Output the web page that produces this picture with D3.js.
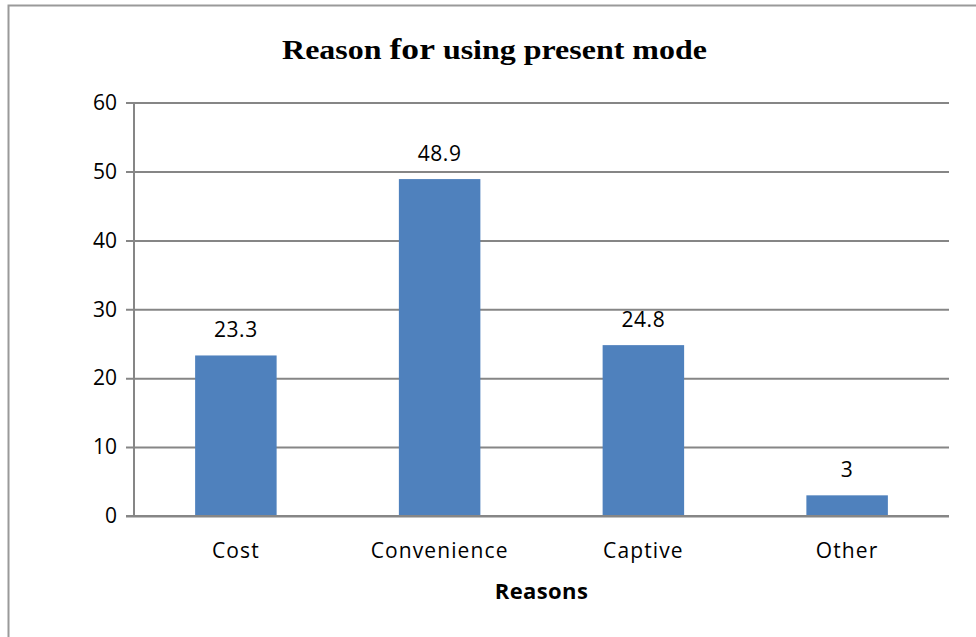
<!DOCTYPE html>
<html>
<head>
    <meta charset="utf-8">
    <title>Reason for using present mode</title>
    <script src="https://d3js.org/d3.v7.min.js"></script>
    <style>
        body { margin: 0; background: #fff; }
    </style>
</head>
<body>
    <div id="chart"></div>
    <script>

        // data
        var reasons = ["Cost", "Convenience", "Captive", "Other"];
        var percents = [23.3, 48.9, 24.8, 3];
        var yTicks = [0, 10, 20, 30, 40, 50, 60];

        var margin = { top: 102.6, right: 27, bottom: 121, left: 134 };
        var W = 976, H = 637;
        var width = W - margin.left - margin.right;
        var height = H - margin.top - margin.bottom;
        var labelFont = "'Open Sans', sans-serif";

        var root = d3.select("#chart")
            .append("svg")
            .attr("width", W)
            .attr("height", H);

        // outer chart border (only left and top are in view)
        root.append("rect")
            .attr("x", 8.5)
            .attr("y", 5.5)
            .attr("width", 1100)
            .attr("height", 800)
            .attr("fill", "none")
            .attr("stroke", "#9a9a9a")
            .attr("stroke-width", 2);

        var svg = root.append("g")
            .attr("transform", `translate(${margin.left}, ${margin.top})`);

        var x = d3.scaleBand()
            .domain(reasons)
            .range([0, width])
            .paddingInner(0.6)
            .paddingOuter(0.3);

        var y = d3.scaleLinear()
            .domain([0, 60])
            .range([height, 0]);

        // gridlines + y axis
        var yAxis = d3.axisLeft(y)
            .tickValues(yTicks)
            .tickSize(-width)
            .tickPadding(17)
            .tickFormat(d3.format("d"));

        var gy = svg.append("g").call(yAxis);
        gy.select(".domain").remove();
        gy.selectAll(".tick line")
            .attr("x1", -8)
            .attr("stroke", "#868686")
            .attr("stroke-width", 2);
        gy.selectAll(".tick text")
            .style("font-family", labelFont)
            .style("font-size", "21px")
            .attr("fill", "#000");

        svg.append("line")
            .attr("x1", 0).attr("x2", 0)
            .attr("y1", 0).attr("y2", height)
            .attr("stroke", "#868686")
            .attr("stroke-width", 2);

        svg.selectAll(".bar")
            .data(reasons)
            .enter()
            .append("rect")
            .attr("class", "bar")
            .attr("x", function(d) { return x(d); })
            .attr("width", x.bandwidth())
            .attr("y", function(d, i) { return y(percents[i]); })
            .attr("height", function(d, i) { return height - y(percents[i]); })
            .attr("fill", "#4f81bd");

        // x axis line drawn above the bars
        svg.append("line")
            .attr("x1", -8).attr("x2", width)
            .attr("y1", height).attr("y2", height)
            .attr("stroke", "#868686")
            .attr("stroke-width", 2);

        svg.selectAll(".val")
            .data(reasons)
            .enter()
            .append("text")
            .attr("class", "val")
            .attr("x", function(d) { return x(d) + x.bandwidth() / 2; })
            .attr("y", function(d, i) { return y(percents[i]) - 18; })
            .attr("text-anchor", "middle")
            .style("font-family", labelFont)
            .style("font-size", "21px")
            .style("letter-spacing", "0.6px")
            .text(function(d, i) { return percents[i]; });

        svg.selectAll(".cat")
            .data(reasons)
            .enter()
            .append("text")
            .attr("class", "cat")
            .attr("x", function(d) { return x(d) + x.bandwidth() / 2; })
            .attr("y", height + 42)
            .attr("text-anchor", "middle")
            .style("font-family", labelFont)
            .style("font-size", "21px")
            .style("letter-spacing", "1.1px")
            .text(function(d) { return d; });

        svg.append("text")
            .attr("x", width / 2)
            .attr("y", height + 83)
            .attr("text-anchor", "middle")
            .style("font-family", labelFont)
            .style("font-size", "22px")
            .style("font-weight", "bold")
            .style("letter-spacing", "0.4px")
            .text("Reasons");

        // title: wide bold serif, stretched horizontally to the reference width
        var titleG = root.append("g");
        var title = titleG.append("text")
            .attr("x", 0)
            .attr("y", 0)
            .attr("text-anchor", "middle")
            .style("font-family", "'Liberation Serif', 'Times New Roman', serif")
            .style("font-weight", "bold")
            .style("font-size", "27px");
        title.append("tspan").text("Reason ");
        title.append("tspan").style("font-size", "30px").text("for");
        title.append("tspan").text(" using present mode");
        var tw = title.node().getComputedTextLength();
        titleG.attr("transform", `translate(494.5, 59) scale(${425 / tw}, 1)`);

    </script>
</body>
</html>
